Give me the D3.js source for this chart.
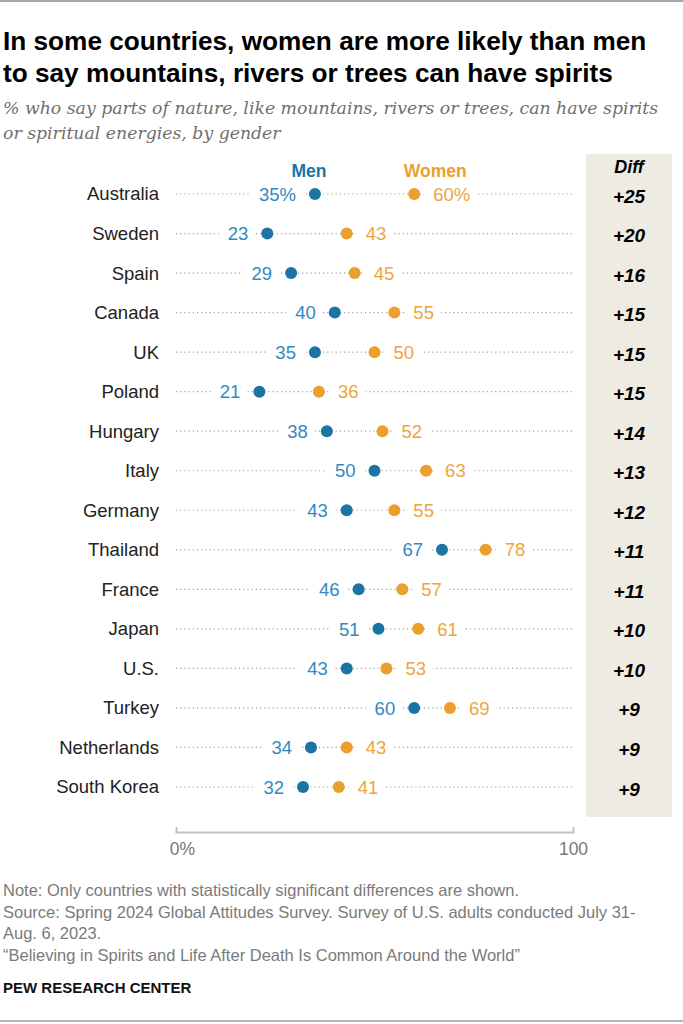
<!DOCTYPE html>
<html>
<head>
<meta charset="utf-8">
<script src="https://cdn.jsdelivr.net/npm/d3@7"></script>
<style>
  body { margin: 0; background: #fff; }
  svg { display: block; font-family: "Liberation Sans", Arial, sans-serif; }
</style>
</head>
<body>
<svg id="chart"></svg>
<script>
// Data
const countries = ["Australia", "Sweden", "Spain", "Canada", "UK", "Poland", "Hungary", "Italy",
  "Germany", "Thailand", "France", "Japan", "U.S.", "Turkey", "Netherlands", "South Korea"];
const men   = [35, 23, 29, 40, 35, 21, 38, 50, 43, 67, 46, 51, 43, 60, 34, 32];
const women = [60, 43, 45, 55, 50, 36, 52, 63, 55, 78, 57, 61, 53, 69, 43, 41];
const diffs = ["+25", "+20", "+16", "+15", "+15", "+15", "+14", "+13", "+12", "+11", "+11", "+10", "+10", "+9", "+9", "+9"];
const axisTicks = [0, 100];

const titleLines = ["In some countries, women are more likely than men",
  "to say mountains, rivers or trees can have spirits"];
const subtitleLines = ["% who say parts of nature, like mountains, rivers or trees, can have spirits",
  "or spiritual energies, by gender"];
const noteLines = ["Note: Only countries with statistically significant differences are shown.",
  "Source: Spring 2024 Global Attitudes Survey. Survey of U.S. adults conducted July 31-",
  "Aug. 6, 2023.",
  "\u201cBelieving in Spirits and Life After Death Is Common Around the World\u201d"];

const width = 683;
const height = 1024;
const menColor = "#1c74a4", menText = "#3189bf";
const womenColor = "#eb9f2c", womenText = "#eea43e";

const svg = d3.select("#chart")
    .attr("width", width)
    .attr("height", height);

svg.append("rect").attr("width", width).attr("height", height).attr("fill", "#fff");

// Frame lines top & bottom
svg.append("line").attr("x1", 0).attr("x2", width).attr("y1", 1).attr("y2", 1)
    .attr("stroke", "#a8a8a8").attr("stroke-width", 2);
svg.append("line").attr("x1", 0).attr("x2", width).attr("y1", 1021).attr("y2", 1021)
    .attr("stroke", "#b5b5b5").attr("stroke-width", 2);

// Title
svg.append("g").selectAll("text")
    .data(titleLines)
    .join("text")
    .attr("x", 3)
    .attr("y", (d, i) => 50 + i * 32)
    .attr("font-weight", "bold")
    .attr("font-size", 26.2)
    .attr("fill", "#000")
    .text(d => d);

// Subtitle
svg.append("g").selectAll("text")
    .data(subtitleLines)
    .join("text")
    .attr("x", 3)
    .attr("y", (d, i) => 114 + i * 25)
    .attr("font-family", "'DejaVu Serif', serif")
    .attr("font-style", "italic")
    .attr("font-size", 17.3)
    .attr("fill", "#6f6f6f")
    .text(d => d);

// Scales
const x = d3.scaleLinear().domain([0, 100]).range([176, 573]);
const y = d3.scalePoint().domain(countries).range([194, 787]);

// Diff column background
svg.append("rect")
    .attr("x", 586).attr("y", 154)
    .attr("width", 86).attr("height", 663)
    .attr("fill", "#eeebe3");

svg.append("text")
    .attr("x", 629).attr("y", 173)
    .attr("text-anchor", "middle")
    .attr("font-weight", "bold").attr("font-style", "italic")
    .attr("font-size", 18)
    .text("Diff");

// Legend headers
svg.append("text")
    .attr("x", x(men[0]) - 6).attr("y", 177)
    .attr("text-anchor", "middle")
    .attr("font-weight", "bold").attr("font-size", 17.5)
    .attr("fill", menColor)
    .text("Men");
svg.append("text")
    .attr("x", x(women[0]) + 21).attr("y", 177)
    .attr("text-anchor", "middle")
    .attr("font-weight", "bold").attr("font-size", 17.5)
    .attr("fill", womenColor)
    .text("Women");

const rows = svg.append("g")
    .selectAll("g")
    .data(countries)
    .join("g")
    .attr("transform", d => `translate(0,${y(d)})`);

// Country labels
rows.append("text")
    .attr("x", 159)
    .attr("dy", "0.35em")
    .attr("text-anchor", "end")
    .attr("font-size", 18.5)
    .attr("fill", "#222")
    .text(d => d);

// Dotted guide
rows.append("line")
    .attr("x1", x(0)).attr("x2", x(100) - 1)
    .attr("stroke", "#a0a0a0")
    .attr("stroke-width", 1.2)
    .attr("stroke-dasharray", "1.2,3");

// value labels with white halo boxes
function addLabel(sel, vals, side, color) {
  const lab = sel.append("g");
  const t = lab.append("text")
      .attr("x", (d, i) => side < 0 ? x(vals[i]) - 19 : x(vals[i]) + 19)
      .attr("dy", "0.36em")
      .attr("text-anchor", side < 0 ? "end" : "start")
      .attr("font-size", 18.5)
      .attr("fill", color)
      .text((d, i) => vals[i] + (i === 0 ? "%" : ""));
  t.each(function () {
    const b = this.getBBox();
    d3.select(this.parentNode).insert("rect", "text")
        .attr("x", b.x - 9).attr("y", -9)
        .attr("width", b.width + 16).attr("height", 18)
        .attr("fill", "#fff");
  });
}
addLabel(rows, men, -1, menText);
addLabel(rows, women, 1, womenText);

// Dots
rows.append("circle")
    .attr("cx", (d, i) => x(men[i]))
    .attr("r", 6)
    .attr("fill", menColor);
rows.append("circle")
    .attr("cx", (d, i) => x(women[i]))
    .attr("r", 6)
    .attr("fill", womenColor);

// Diff values
rows.append("text")
    .attr("x", 629)
    .attr("dy", "0.45em")
    .attr("text-anchor", "middle")
    .attr("font-weight", "bold").attr("font-style", "italic")
    .attr("font-size", 19)
    .attr("fill", "#000")
    .text((d, i) => diffs[i]);

// Axis
const axis = d3.axisBottom(x)
    .tickValues(axisTicks)
    .tickSizeInner(0)
    .tickSizeOuter(6)
    .tickPadding(16)
    .tickFormat(d => d === 0 ? "0%" : d);
const gAxis = svg.append("g")
    .attr("transform", "translate(0,827)")
    .call(axis);
gAxis.select(".domain")
    .attr("transform", "translate(0,6) scale(1,-1)")
    .attr("stroke", "#c2c2c2").attr("stroke-width", 2);
gAxis.selectAll(".tick text")
    .attr("font-family", "'Liberation Sans', Arial, sans-serif")
    .attr("font-size", 17.5)
    .attr("fill", "#777");
gAxis.selectAll(".tick").filter(d => d === 0).select("text").attr("dx", 6);

// Notes
svg.append("g").selectAll("text")
    .data(noteLines)
    .join("text")
    .attr("x", 3)
    .attr("y", (d, i) => 896 + i * 21.7)
    .attr("font-size", 16.5)
    .attr("fill", "#7a7a7a")
    .text(d => d);

svg.append("text")
    .attr("x", 3).attr("y", 993)
    .attr("font-weight", "bold").attr("font-size", 15)
    .attr("fill", "#111")
    .text("PEW RESEARCH CENTER");
</script>
</body>
</html>
